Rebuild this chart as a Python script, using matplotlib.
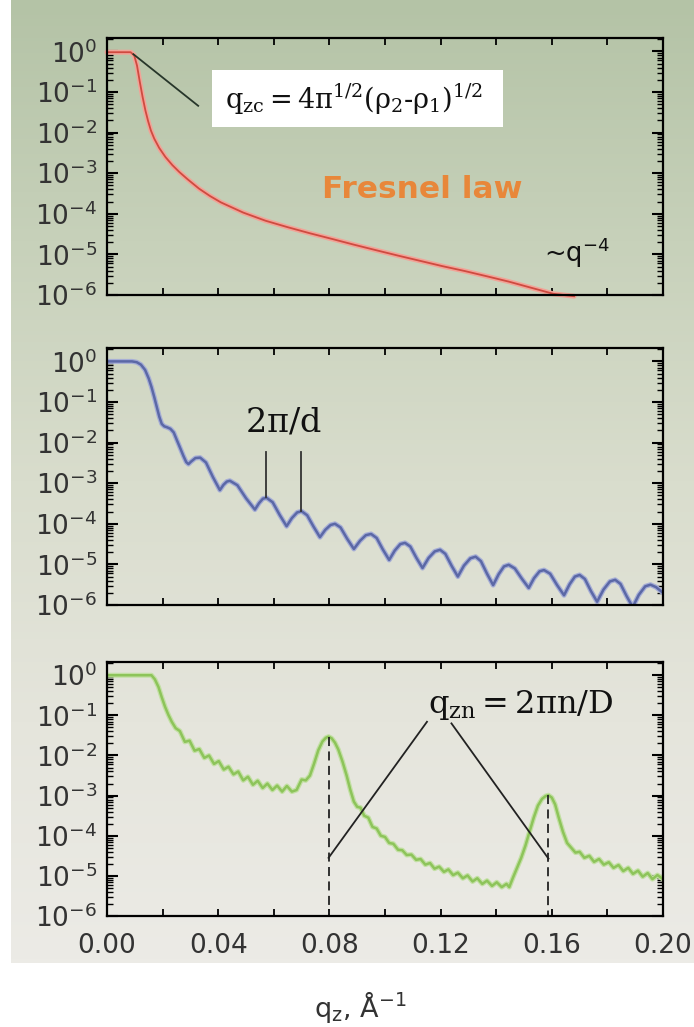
import numpy as np
import matplotlib
matplotlib.use("Agg")
import matplotlib.pyplot as plt
from matplotlib.colors import LinearSegmentedColormap
from matplotlib.patches import Rectangle
from matplotlib.ticker import FixedLocator, FormatStrFormatter, NullFormatter, LogFormatterSciNotation

plt.rcParams['font.family'] = ['DejaVu Sans']
plt.rcParams['axes.unicode_minus'] = False
plt.rcParams['mathtext.fontset'] = 'dejavusans'

# ---------------- data (q in 1/A, log10 of reflectivity) ----------------
q_fresnel = [0.000, 0.0085, 0.0098, 0.0108, 0.0118, 0.0128, 0.0138, 0.0148, 0.0158, 0.0170,
             0.0188, 0.0210, 0.0235, 0.0260, 0.0290, 0.0331, 0.0370, 0.0410, 0.0490, 0.0570,
             0.0650, 0.0730, 0.0810, 0.0888, 0.0970, 0.1047, 0.1127, 0.1207, 0.1287, 0.1367,
             0.1445, 0.1525, 0.1605, 0.1680]
logR_fresnel = [-0.02, -0.02, -0.10, -0.35, -0.75, -1.12, -1.45, -1.72, -1.95, -2.15,
                -2.38, -2.60, -2.80, -2.97, -3.15, -3.38, -3.56, -3.72, -3.97, -4.17,
                -4.33, -4.48, -4.62, -4.76, -4.90, -5.03, -5.16, -5.29, -5.41, -5.54,
                -5.67, -5.82, -5.97, -6.03]

q_film = [0.000, 0.0090, 0.0107, 0.0122, 0.0137, 0.0150, 0.0160, 0.0170, 0.0179, 0.0188,
          0.0197, 0.0206, 0.0215, 0.0228, 0.0240, 0.0252, 0.0263, 0.0275, 0.0285, 0.0293,
          0.0302, 0.0318, 0.0335, 0.0356, 0.0381, 0.0406, 0.0419, 0.0431, 0.0442, 0.0469,
          0.0500, 0.0532, 0.0547, 0.0561, 0.0574, 0.0596, 0.0621, 0.0646, 0.0665, 0.0684,
          0.0700, 0.0720, 0.0743, 0.0766, 0.0785, 0.0804, 0.0820, 0.0840, 0.0864, 0.0888,
          0.0910, 0.0931, 0.0950, 0.0970, 0.0992, 0.1015, 0.1035, 0.1055, 0.1072, 0.1091,
          0.1113, 0.1135, 0.1157, 0.1179, 0.1198, 0.1217, 0.1240, 0.1262, 0.1284, 0.1307,
          0.1326, 0.1345, 0.1367, 0.1389, 0.1409, 0.1428, 0.1445, 0.1467, 0.1492, 0.1517,
          0.1536, 0.1556, 0.1572, 0.1594, 0.1619, 0.1644, 0.1664, 0.1683, 0.1700, 0.1719,
          0.1741, 0.1763, 0.1786, 0.1809, 0.1828, 0.1847, 0.1869, 0.1891, 0.1913, 0.1936,
          0.1955, 0.1975, 0.2000]
logR_film = [0.00, 0.00, -0.02, -0.08, -0.21, -0.42, -0.63, -0.88, -1.12, -1.36,
             -1.54, -1.60, -1.62, -1.66, -1.75, -1.95, -2.13, -2.33, -2.48, -2.53,
             -2.47, -2.38, -2.37, -2.49, -2.85, -3.17, -3.04, -2.96, -2.94, -3.05,
             -3.37, -3.65, -3.49, -3.38, -3.36, -3.47, -3.78, -4.06, -3.86, -3.72,
             -3.69, -3.79, -4.07, -4.33, -4.15, -4.03, -4.00, -4.09, -4.37, -4.62,
             -4.42, -4.28, -4.25, -4.35, -4.63, -4.89, -4.66, -4.50, -4.47, -4.56,
             -4.84, -5.09, -4.84, -4.68, -4.64, -4.74, -5.04, -5.30, -5.03, -4.85,
             -4.81, -4.92, -5.23, -5.51, -5.24, -5.05, -5.01, -5.10, -5.35, -5.58,
             -5.34, -5.17, -5.14, -5.23, -5.51, -5.76, -5.49, -5.30, -5.26, -5.36,
             -5.66, -5.92, -5.62, -5.42, -5.38, -5.48, -5.78, -6.05, -5.75, -5.54,
             -5.50, -5.56, -5.70]

q_multi = [0.000, 0.0160, 0.0172, 0.0185, 0.0197, 0.0209, 0.0221, 0.0233, 0.0247, 0.0262,
           0.0280, 0.0297, 0.0315, 0.0332, 0.0350, 0.0367, 0.0385, 0.0402, 0.0420, 0.0437,
           0.0455, 0.0472, 0.0490, 0.0507, 0.0525, 0.0542, 0.0560, 0.0577, 0.0595, 0.0612,
           0.0630, 0.0647, 0.0665, 0.0682, 0.0700, 0.0715, 0.0730, 0.0745, 0.0760, 0.0775,
           0.0787, 0.0797, 0.0808, 0.0820, 0.0832, 0.0847, 0.0862, 0.0875, 0.0888, 0.0900,
           0.0912, 0.0925, 0.0940, 0.0955, 0.0970, 0.0985, 0.1000, 0.1015, 0.1030, 0.1047,
           0.1062, 0.1078, 0.1095, 0.1112, 0.1128, 0.1145, 0.1162, 0.1178, 0.1195, 0.1212,
           0.1228, 0.1245, 0.1262, 0.1280, 0.1297, 0.1315, 0.1332, 0.1350, 0.1367, 0.1385,
           0.1402, 0.1420, 0.1437, 0.1447, 0.1460, 0.1475, 0.1490, 0.1505, 0.1520, 0.1535,
           0.1550, 0.1565, 0.1578, 0.1588, 0.1600, 0.1612, 0.1625, 0.1640, 0.1655, 0.1670,
           0.1685, 0.1700, 0.1717, 0.1735, 0.1752, 0.1770, 0.1787, 0.1805, 0.1822, 0.1840,
           0.1857, 0.1875, 0.1892, 0.1910, 0.1927, 0.1945, 0.1962, 0.1980, 0.2000]
logR_multi = [0.00, 0.00, -0.10, -0.29, -0.55, -0.79, -0.99, -1.16, -1.32, -1.39,
              -1.66, -1.63, -1.88, -1.84, -2.06, -2.00, -2.21, -2.14, -2.35, -2.28,
              -2.47, -2.40, -2.62, -2.53, -2.73, -2.63, -2.81, -2.70, -2.86, -2.75,
              -2.90, -2.76, -2.90, -2.86, -2.60, -2.62, -2.50, -2.20, -1.87, -1.65,
              -1.56, -1.53, -1.57, -1.68, -1.85, -2.15, -2.50, -2.85, -3.15, -3.28,
              -3.30, -3.50, -3.55, -3.78, -3.82, -4.00, -4.03, -4.18, -4.20, -4.35,
              -4.36, -4.48, -4.47, -4.60, -4.58, -4.72, -4.68, -4.82, -4.77, -4.90,
              -4.84, -4.98, -4.92, -5.06, -4.99, -5.14, -5.06, -5.20, -5.12, -5.25,
              -5.16, -5.28, -5.20, -5.28, -5.05, -4.80, -4.55, -4.25, -3.90, -3.55,
              -3.25, -3.08, -3.01, -2.99, -3.05, -3.22, -3.55, -3.90, -4.18, -4.30,
              -4.42, -4.40, -4.55, -4.50, -4.65, -4.58, -4.72, -4.66, -4.80, -4.73,
              -4.88, -4.80, -4.95, -4.87, -5.02, -4.93, -5.08, -4.98, -5.08]

# axis ticks
x_major_ticks = [0.00, 0.04, 0.08, 0.12, 0.16, 0.20]
x_minor_ticks = [0.02, 0.06, 0.10, 0.14, 0.18]
y_major_ticks = [1e-6, 1e-5, 1e-4, 1e-3, 1e-2, 1e-1, 1e0]
y_minor_mult = [2, 3, 4, 5, 6, 7, 8, 9]

# annotation anchors
qzc_line_q = [0.0095, 0.0328]
qzc_line_logR = [-0.07, -1.34]
kiessig_q = [0.0572, 0.0698]
kiessig_top_logR = -2.24
kiessig_bottom_logR = [-3.34, -3.69]
bragg_q = [0.0797, 0.1588]
bragg_peak_logR = [-1.53, -2.99]
bragg_text_start_q = [0.1151, 0.1239]
bragg_text_start_logR = [-1.16, -1.20]
bragg_line_end_logR = [-4.55, -4.57]

ymin, ymax = 1e-6, 10 ** 0.33
y_minor_ticks = [m * d for d in y_major_ticks for m in y_minor_mult if m * d < ymax]

W, H = 694, 1027
fig = plt.figure(figsize=(W / 100, H / 100), dpi=100)
fig.patch.set_facecolor('white')

# gradient background panel
bg = fig.add_axes([11 / W, 1 - 963 / H, 1 - 11 / W, 963 / H], zorder=-10)
cmap = LinearSegmentedColormap.from_list(
    'bg', ['#b4c3a6', '#c7d1ba', '#d9ddcd', '#e5e5dc', '#ecebe6'])
bg.imshow(np.linspace(0, 1, 256).reshape(-1, 1), cmap=cmap, aspect='auto',
          extent=[0, 1, 0, 1], origin='upper')
bg.set_axis_off()

left = 107 / W
width = (663 - 107) / W
panels = [(38, 295), (348, 605), (662, 916)]
axes = []
for i, (t, b) in enumerate(panels):
    ax = fig.add_axes([left, 1 - b / H, width, (b - t) / H])
    ax.set_facecolor('none')
    ax.set_yscale('log')
    ax.set_xlim(0, 0.2)
    ax.set_ylim(ymin, ymax)
    ax.xaxis.set_major_locator(FixedLocator(x_major_ticks))
    ax.xaxis.set_minor_locator(FixedLocator(x_minor_ticks))
    ax.xaxis.set_major_formatter(FormatStrFormatter('%.2f'))
    ax.yaxis.set_major_locator(FixedLocator(y_major_ticks))
    ax.yaxis.set_major_formatter(LogFormatterSciNotation())
    ax.yaxis.set_minor_locator(FixedLocator(y_minor_ticks))
    ax.yaxis.set_minor_formatter(NullFormatter())
    ax.tick_params(axis='both', which='both', direction='in', top=True, right=True,
                   colors='black', labelcolor='#333333')
    ax.tick_params(axis='y', which='major', length=8, width=1.5, pad=7, labelsize=19)
    ax.tick_params(axis='y', which='minor', length=4, width=1.0)
    ax.tick_params(axis='x', which='both', length=5, width=1.3, pad=12, labelsize=19)
    if i < 2:
        ax.tick_params(axis='x', labelbottom=False)
    for s in ax.spines.values():
        s.set_linewidth(1.6)
        s.set_color('black')
    axes.append(ax)

ax1, ax2, ax3 = axes

# ---- top panel: Fresnel ----
R_f = [10 ** v for v in logR_fresnel]
ax1.plot(q_fresnel, R_f, color='#f2a397', lw=3.6, solid_capstyle='round', clip_on=False)
ax1.plot(q_fresnel, R_f, color='#cf4a40', lw=1.3, clip_on=False)
ax1.plot(qzc_line_q, [10 ** v for v in qzc_line_logR], color='#27362a', lw=1.3)
ax1.add_patch(Rectangle((0.188, 0.653), 0.525, 0.222, transform=ax1.transAxes,
                        facecolor='white', edgecolor='none', zorder=3))
ax1.text(0.444, 0.762, r'$\mathrm{q_{zc}} = \mathrm{4\pi^{1/2}(\rho_2\text{-}\rho_1)^{1/2}}$',
         transform=ax1.transAxes, ha='center', va='center', fontsize=19.5,
         math_fontfamily='dejavuserif', color='#111111', zorder=4)
ax1.text(0.567, 0.412, 'Fresnel law', transform=ax1.transAxes, ha='center', va='center',
         fontsize=22.5, fontweight='bold', color='#e8873a')
ax1.text(0.845, 0.165, r'~q$^{-4}$', transform=ax1.transAxes, ha='center', va='center',
         fontsize=18.5, color='#111111')

# ---- middle panel: thin film ----
R_film = [10 ** v for v in logR_film]
ax2.plot(q_film, R_film, color='#a6aed6', lw=3.6)
ax2.plot(q_film, R_film, color='#5b68a6', lw=1.8)
for qk, lb in zip(kiessig_q, kiessig_bottom_logR):
    ax2.plot([qk, qk], [10 ** kiessig_top_logR, 10 ** lb], color='#333333', lw=1.3)
ax2.text(0.0634, 10 ** -1.49, r'$\mathrm{2\pi/d}$', ha='center', va='center', fontsize=24,
         math_fontfamily='dejavuserif', color='#111111')

# ---- bottom panel: multilayer ----
R_m = [10 ** v for v in logR_multi]
ax3.plot(q_multi, R_m, color='#c3e0a4', lw=3.6)
ax3.plot(q_multi, R_m, color='#8dc45a', lw=1.8)
for qb, pk in zip(bragg_q, bragg_peak_logR):
    ax3.plot([qb, qb], [10 ** pk, ymin], color='#222222', lw=1.3, ls=(0, (5, 3)))
for q0, l0, qb, l1 in zip(bragg_text_start_q, bragg_text_start_logR, bragg_q, bragg_line_end_logR):
    ax3.plot([q0, qb], [10 ** l0, 10 ** l1], color='#222222', lw=1.3)
ax3.text(0.1489, 10 ** -0.93, r'$\mathrm{q_{zn}} = \mathrm{2\pi n/D}$', ha='center',
         va='baseline', fontsize=23, math_fontfamily='dejavuserif', color='#111111')

fig.text(360 / W, 1 - 1007 / H, r'q$_{\mathregular{z}}$, Å$^{\mathregular{-1}}$',
         ha='center', va='center', fontsize=19.5, color='#333333')

fig.savefig('out.png', dpi=100)
